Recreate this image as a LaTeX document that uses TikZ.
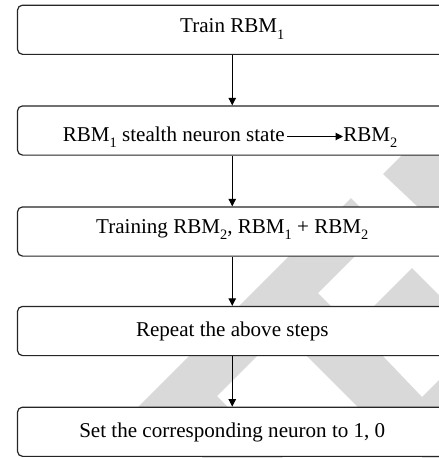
\documentclass[tikz,border=0pt]{standalone}
\usepackage{fontspec}
\setmainfont{Liberation Serif}
\usetikzlibrary{arrows.meta}
\newcommand\mysubs[1]{\raisebox{-0.3em}{\fontsize{10.8}{12}\selectfont #1}}
\tikzset{
  flowbox/.style={draw=black!85, line width=0.9pt, fill=white, rounded corners=3.75pt,
    minimum width=322.1pt, minimum height=36.9pt, inner sep=0pt},
  lbl/.style={anchor=base, inner sep=0pt, font=\fontsize{15.8}{19}\selectfont},
  flowarrow/.style={draw=black, line width=0.75pt, -{Triangle[width=5.5pt,length=5.5pt]}},
  wm/.style={fill=black!15, draw=none}
}
\begin{document}
\begin{tikzpicture}[x=0.75pt,y=-0.75pt]
\useasboundingbox (0,0) rectangle (439,458);
\clip (0,0) rectangle (439,458);
\fill[white] (0,0) rectangle (439,458);
% watermark
\fill[wm] (383,174) -- (404,153) -- (445,153) -- (445,208) -- (419,208) -- cycle;
\fill[wm] (351,198) -- (341,208) -- (361,208) -- cycle;
\fill[wm] (292,253) -- (358,253) -- (318,293) -- (334,309) -- (236,309) -- cycle;
\fill[wm] (412,268) -- (371,309) -- (445,309) -- (445,301) -- cycle;
\fill[wm] (192,353) -- (260,353) -- (217,396) -- (230,409) -- (136,409) -- cycle;
\fill[wm] (304,353) -- (380,353) -- (422,397) -- (445,374) -- (445,409) -- (360,409) -- cycle;
\fill[wm] (200,454) -- (280,454) -- (284,460) -- (204,460) -- cycle;
\fill[wm] (420,454) -- (445,454) -- (445,460) -- (424,460) -- cycle;
% boxes
\node[flowbox] (b1) at (232.25,29.75) {};
\node[flowbox] (b2) at (232.25,130.5) {};
\node[flowbox] (b3) at (232.25,231.5) {};
\node[flowbox] (b4) at (232.25,331) {};
\node[flowbox] (b5) at (232.25,431.75) {};
% labels
\node[lbl] (t1) at (232.25,32.7) {Train RBM\mysubs{1}};
\node[lbl, anchor=base east] (t2a) at (285,141) {RBM\mysubs{1} stealth neuron state};
\node[lbl, anchor=base west] (t2b) at (343,141) {RBM\mysubs{2}};
\node[lbl] (t3) at (232.25,233) {Training RBM\mysubs{2}, RBM\mysubs{1} + RBM\mysubs{2}};
\node[lbl] (t4) at (232.25,336) {Repeat the above steps};
\node[lbl] (t5) at (232.25,437.5) {Set the corresponding neuron to 1, 0};
% connectors
\draw[flowarrow] (b1.south) -- (b2.north);
\draw[flowarrow] (b2.south) -- (b3.north);
\draw[flowarrow] (b3.south) -- (b4.north);
\draw[flowarrow] (b4.south) -- (b5.north);
\draw[flowarrow] ([shift={(2,-4.5)}]t2a.base east) -- ([shift={(0,-4.5)}]t2b.base west);
\end{tikzpicture}
\end{document}
